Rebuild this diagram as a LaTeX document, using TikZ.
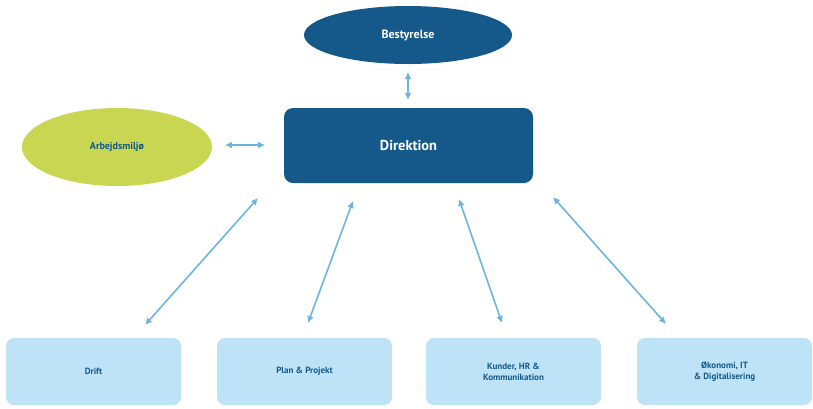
\documentclass[tikz,border=0pt]{standalone}
\usepackage{fontspec}
\setmainfont{PT Sans}
\usetikzlibrary{shapes.geometric,arrows.meta}
\definecolor{dblue}{HTML}{14598A}
\definecolor{lime}{HTML}{C8D651}
\definecolor{lblue}{HTML}{BEE3F7}
\definecolor{arr}{HTML}{6DB5DD}
\tikzset{
 x=1pt,y=-1pt,
 darkell/.style={ellipse,fill=dblue,text=white,font=\bfseries\large},
 limeell/.style={ellipse,fill=lime,text=dblue,font=\bfseries},
 dirbox/.style={rounded corners=9pt,fill=dblue,text=white,font=\bfseries\Large},
 leaf/.style={rounded corners=8pt,fill=lblue,text=dblue,font=\bfseries\small,minimum width=175pt,minimum height=67pt,align=center},
 link/.style={arr,line width=1.6pt,{Latex[length=7pt,width=7pt]}-{Latex[length=7pt,width=7pt]}}
}
\begin{document}
\begin{tikzpicture}
\useasboundingbox (0,0) rectangle (813,408);
\node[darkell,minimum width=208pt,minimum height=58pt] (best) at (408,35) {Bestyrelse};
\node[dirbox,minimum width=249pt,minimum height=75pt] (dir) at (408.5,145.5) {Direktion};
\node[limeell,minimum width=190pt,minimum height=78pt] (arb) at (117,147) {Arbejdsmiljø};
\node[leaf] (d) at (93.5,371.5) {Drift};
\node[leaf] (p) at (304.5,371.5) {Plan \& Projekt};
\node[leaf] (k) at (513.5,371.5) {Kunder, HR \&\\Kommunikation};
\node[leaf] (o) at (724.5,371.5) {Økonomi, IT\\\& Digitalisering};
\coordinate (b1) at (408,72); \coordinate (b2) at (408,100);
\draw[link] (b1) -- (b2);
\coordinate (a1) at (225,145); \coordinate (a2) at (265,145);
\draw[link] (a1) -- (a2);
\coordinate (s1) at (258,198); \coordinate (e1) at (145,325);
\coordinate (s2) at (353,201); \coordinate (e2) at (308,323);
\coordinate (s3) at (459,199); \coordinate (e3) at (502,323);
\coordinate (s4) at (553,197); \coordinate (e4) at (666,324);
\draw[link] (s1) -- (e1);
\draw[link] (s2) -- (e2);
\draw[link] (s3) -- (e3);
\draw[link] (s4) -- (e4);
\end{tikzpicture}
\end{document}
